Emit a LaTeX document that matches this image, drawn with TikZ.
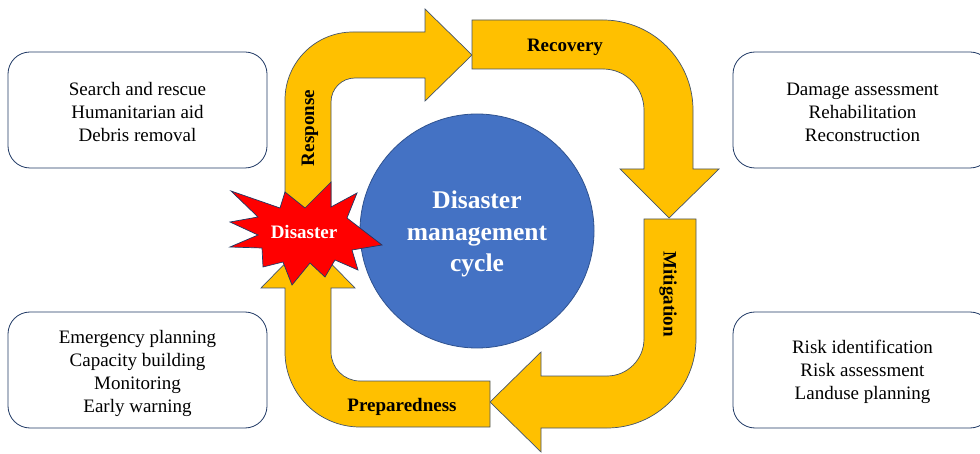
\documentclass[tikz,border=0pt]{standalone}
\usepackage{fontspec}
\setmainfont{Liberation Serif}
\definecolor{arrowfill}{HTML}{FFC000}
\definecolor{arrowline}{HTML}{44546A}
\definecolor{circfill}{HTML}{4472C4}
\definecolor{circline}{HTML}{2F528F}
\definecolor{boxline}{HTML}{1F3864}
\definecolor{starfill}{HTML}{FF0000}
\begin{document}
\begin{tikzpicture}[x=1pt,y=-1pt,
  bigarrow/.style={fill=arrowfill,draw=arrowline,line width=0.7pt,line join=miter},
  infobox/.style={draw=boxline,line width=0.8pt,rounded corners=22pt,minimum width=259pt,minimum height=116pt},
  infotext/.style={align=center,font=\fontsize{19}{23}\selectfont},
  phase/.style={font=\bfseries\fontsize{19}{22}\selectfont,inner sep=0pt},
]
\useasboundingbox (0,0) rectangle (980,454);
\clip (0,0) rectangle (980,454);

% Response arrow
\draw[bigarrow] (285,236) -- (285,100) .. controls (285,62.4) and (315.4,32) .. (353,32)
  -- (425,32) -- (425,9) -- (472,55) -- (425,101) -- (425,78) -- (355,78)
  .. controls (341.7,78) and (331,88.7) .. (331,102) -- (331,236) -- cycle;
% Recovery arrow
\draw[bigarrow] (472,20) -- (603,20) .. controls (652.7,20) and (693,60.3) .. (693,110)
  -- (693,169) -- (719,169) -- (669,218) -- (620,169) -- (644,169) -- (644,110)
  .. controls (644,87.4) and (625.6,69) .. (603,69) -- (472,69) -- cycle;
% Mitigation arrow
\draw[bigarrow] (644,219) -- (696,219) -- (696,339) .. controls (696,388.2) and (656.2,428) .. (607,428)
  -- (541,428) -- (541,452) -- (490,402) -- (541,352) -- (541,376) -- (607,376)
  .. controls (627.4,376) and (644,359.4) .. (644,339) -- cycle;
% Preparedness arrow
\draw[bigarrow] (490,381) -- (490,427) -- (360,427) .. controls (318.6,427) and (285,393.4) .. (285,352)
  -- (285,288) -- (261,288) -- (308,240) -- (355,288) -- (331,288) -- (331,352)
  .. controls (331,368) and (344,381) .. (360,381) -- cycle;

% central circle
\node[circle,fill=circfill,draw=circline,line width=0.8pt,minimum size=234pt,inner sep=0pt] (cyc) at (477,231) {};
\node[text=white,align=center,font=\bfseries\fontsize{25.5}{31.5}\selectfont] (cyctext) at (477,234)
  {Disaster\\management\\cycle};

% star
\draw[fill=starfill,draw=boxline,line width=0.7pt,line join=miter]
  (231,191) -- (280,208) -- (285,192) -- (305,208) -- (331,182) -- (331,207)
  -- (357,193) -- (347,218) -- (382,245) -- (352,250) -- (358,270) -- (335,260)
  -- (325,277) -- (310,263) -- (292,285) -- (283,262) -- (263,267) -- (262,248)
  -- (230,247) -- (258,235) -- (230,222) -- (258,217) -- cycle;
\node[phase,text=white] (dis) at (304,232) {Disaster};

% phase labels
\node[phase] (rec) at (565,47) {Recovery};
\node[phase,rotate=90] (res) at (310,128) {Response};
\node[phase,rotate=-90] (mit) at (668,294) {Mitigation};
\node[phase] (pre) at (402,407) {Preparedness};

% info boxes
\node[infobox] (b1) at (137.5,110) {};
\node[infobox] (b2) at (862.5,110) {};
\node[infobox] (b3) at (137.5,370) {};
\node[infobox] (b4) at (862.5,370) {};
\node[infotext] (t1) at (137.5,112.5) {Search and rescue\\Humanitarian aid\\Debris removal};
\node[infotext] (t2) at (862.5,112.5) {Damage assessment\\Rehabilitation\\Reconstruction};
\node[infotext] (t3) at (137.5,373) {Emergency planning\\Capacity building\\Monitoring\\Early warning};
\node[infotext] (t4) at (862.5,372) {Risk identification\\Risk assessment\\Landuse planning};
\end{tikzpicture}
\end{document}
